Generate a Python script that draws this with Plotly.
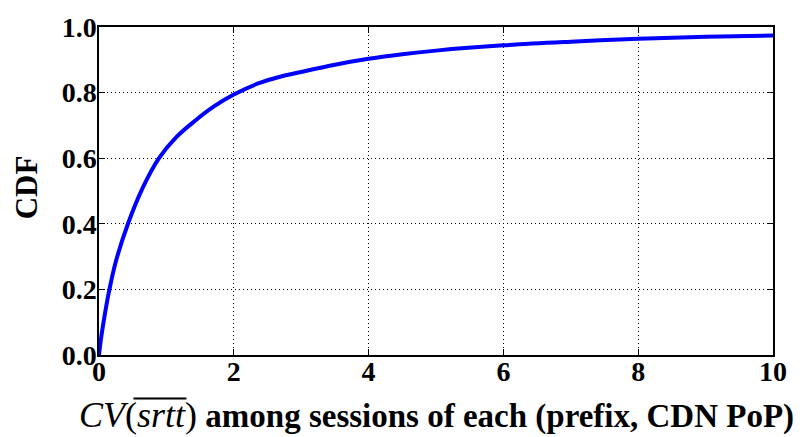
import plotly.graph_objects as go

# CDF of CV(srtt)
cv_values = [0, 0.03, 0.071, 0.145, 0.25, 0.43, 0.65, 0.89, 1.15, 1.43, 1.7, 2.0, 2.35, 2.7, 3.0, 3.5, 4.0, 4.5, 5.0, 6.0, 7.0, 8.0, 9.0, 10.0]
cdf_values = [0, 0.05, 0.105, 0.19, 0.285, 0.40, 0.51, 0.60, 0.665, 0.715, 0.757, 0.794, 0.827, 0.849, 0.863, 0.885, 0.903, 0.917, 0.928, 0.944, 0.955, 0.964, 0.970, 0.974]

x_ticks = [0, 2, 4, 6, 8, 10]
y_ticks = [0.0, 0.2, 0.4, 0.6, 0.8, 1.0]

FONT = "Liberation Serif, Times New Roman, Times, serif"

fig = go.Figure()
fig.add_trace(go.Scatter(
    x=cv_values, y=cdf_values, mode="lines",
    line=dict(color="#0000ff", width=4, shape="spline", smoothing=1.0),
    showlegend=False, hoverinfo="skip",
))

axis_common = dict(
    showline=True, linecolor="black", linewidth=1.5, mirror="ticks",
    ticks="inside", ticklen=6, tickwidth=1, tickcolor="black",
    showgrid=True, gridcolor="black", gridwidth=1, griddash="1px,3px",
    zeroline=False,
    tickfont=dict(family=FONT, size=28, color="black", weight="bold"),
)

fig.update_xaxes(range=[0, 10], tickvals=x_ticks, ticktext=[str(v) for v in x_ticks],
                 ticklabelstandoff=-9, **axis_common)
fig.update_yaxes(range=[0, 1], tickvals=y_ticks, ticktext=[f"{v:.1f}" for v in y_ticks],
                 ticklabelstandoff=-5, **axis_common)

fig.add_annotation(
    xref="paper", yref="paper", x=0.5, y=-0.117, xanchor="center", yanchor="top",
    showarrow=False,
    text=("<span style='font-size:36px'><i>CV</i>(<i>srtt</i>)</span>"
          " <b>among sessions of each (prefix, CDN PoP)</b>"),
    font=dict(family=FONT, size=33, color="black"),
)
# overline over "srtt"
fig.add_shape(type="line", xref="paper", yref="paper",
              x0=0.0511, x1=0.1297, y0=-0.133, y1=-0.133,
              line=dict(color="black", width=2))
fig.add_annotation(
    xref="paper", yref="paper", x=-0.1075, y=0.51, xanchor="center", yanchor="middle",
    showarrow=False, textangle=-90,
    text="<b>CDF</b>",
    font=dict(family=FONT, size=31, color="black"),
)

fig.update_layout(
    width=802, height=437,
    margin=dict(l=98.5, r=29, t=22, b=82),
    paper_bgcolor="white", plot_bgcolor="white",
    font=dict(family=FONT, color="black"),
)

fig.write_html("out.html")
